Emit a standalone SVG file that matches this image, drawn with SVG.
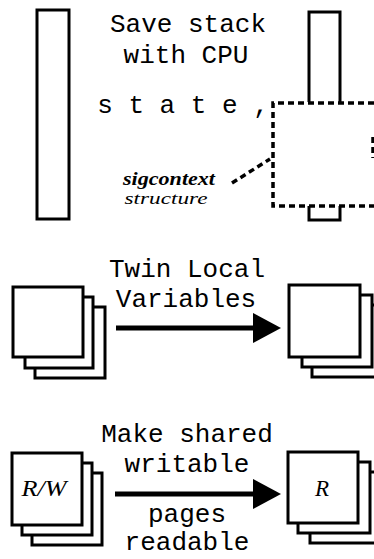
<svg xmlns="http://www.w3.org/2000/svg" width="374" height="559" viewBox="0 0 374 559">
  <defs>
    <style>
      .solid { fill: #fff; stroke: #000; stroke-width: 3; }
      .open { fill: none; stroke: #000; stroke-width: 3; }
      .dash { fill: none; stroke: #000; stroke-width: 3.5; stroke-dasharray: 6 4; }
      .mono { font-family: "Liberation Mono", "Courier New", monospace; font-size: 26px; fill: #000; text-anchor: middle; }
      .serif { font-family: "Liberation Serif", "Times New Roman", serif; fill: #000; font-style: italic; }
      .arrow { stroke: #000; stroke-width: 5; fill: none; }
    </style>
    <marker id="head" viewBox="0 0 28 30" refX="0" refY="15" markerUnits="userSpaceOnUse" markerWidth="28" markerHeight="30" orient="auto">
      <path d="M0,0 L28,15 L0,30 Z" fill="#000"/>
    </marker>
  </defs>

  <!-- Row 1: saving the stack with the CPU state -->
  <g id="stack-before">
    <rect class="solid" x="37" y="10" width="32" height="209"/>
  </g>
  <g id="label-save">
    <text class="mono" x="188" y="32">Save stack</text>
    <text class="mono" x="186" y="63">with CPU</text>
    <text class="mono" x="183" y="113">s t a t e ,</text>
  </g>
  <g id="stack-after">
    <path class="open" d="M309,102 V12 H340 V102"/>
    <path class="open" d="M309,206 V220 H340 V206"/>
    <path class="dash" d="M374,103 H273 V206 H374"/>
    <line class="dash" x1="373" y1="137" x2="373" y2="158"/>
  </g>
  <g id="label-sigcontext">
    <text class="serif" x="169" y="185" font-size="19" font-weight="bold" text-anchor="middle" textLength="92" lengthAdjust="spacingAndGlyphs">sigcontext</text>
    <text class="serif" x="166" y="204" font-size="17" text-anchor="middle" textLength="83" lengthAdjust="spacingAndGlyphs">structure</text>
  </g>

  <!-- Row 2: twin local variables -->
  <g id="pages-local">
    <rect class="solid" x="35" y="307" width="70" height="71"/>
    <rect class="solid" x="25" y="297" width="68" height="71"/>
    <rect class="solid" x="13" y="287" width="70" height="70"/>
  </g>
  <g id="pages-twin">
    <rect class="solid" x="312" y="305" width="70" height="72"/>
    <rect class="solid" x="302" y="295" width="70" height="72"/>
    <rect class="solid" x="289" y="285" width="71" height="72"/>
  </g>
  <g id="label-twin">
    <text class="mono" x="187" y="277">Twin Local</text>
    <text class="mono" x="186" y="307">Variables</text>
  </g>

  <!-- Row 3: making shared writable pages readable -->
  <g id="pages-rw">
    <rect class="solid" x="32" y="473" width="70" height="72"/>
    <rect class="solid" x="22" y="463" width="70" height="72"/>
    <rect class="solid" x="12" y="453" width="70" height="72"/>
    <text class="serif" x="44" y="496" font-size="23" text-anchor="middle" textLength="45" lengthAdjust="spacingAndGlyphs">R/W</text>
  </g>
  <g id="pages-r">
    <rect class="solid" x="310" y="472" width="72" height="71"/>
    <rect class="solid" x="298" y="462" width="72" height="71"/>
    <rect class="solid" x="288" y="452" width="70" height="71"/>
    <text class="serif" x="322" y="496" font-size="23" text-anchor="middle">R</text>
  </g>
  <g id="label-readable">
    <text class="mono" x="187" y="442">Make shared</text>
    <text class="mono" x="187" y="472">writable</text>
    <text class="mono" x="187" y="522">pages</text>
    <text class="mono" x="187" y="550">readable</text>
  </g>

  <!-- Connectors -->
  <g id="connectors">
    <line class="dash" x1="232" y1="183" x2="270" y2="159"/>
    <line class="arrow" x1="116" y1="328" x2="253" y2="328" marker-end="url(#head)"/>
    <line class="arrow" x1="115" y1="494" x2="253" y2="494" marker-end="url(#head)"/>
  </g>
</svg>
